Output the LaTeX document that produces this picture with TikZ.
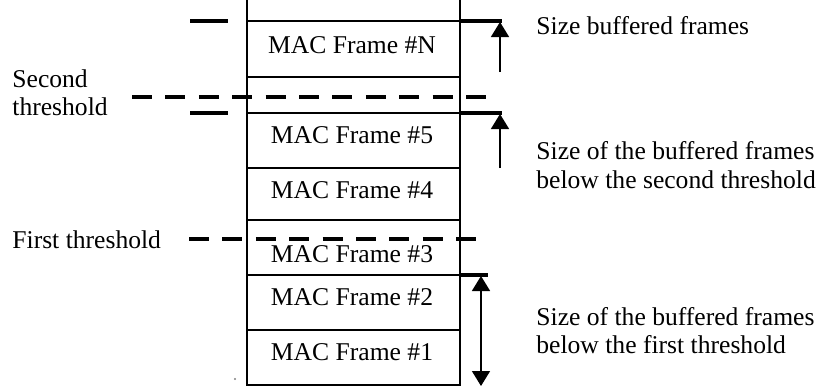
\documentclass[tikz,border=0pt]{standalone}
\usepackage{fontspec}
\setmainfont{Liberation Serif}
\usetikzlibrary{arrows.meta}
\begin{document}
\begin{tikzpicture}[x=0.5pt,y=-0.5pt,
  txt/.style={font=\fontsize{12.8}{15}\selectfont, inner sep=0pt, anchor=base},
  ltxt/.style={txt, anchor=base west},
  cellline/.style={line width=0.75pt},
  thickline/.style={line width=2pt},
  thr/.style={line width=2pt, dash pattern=on 10pt off 6.7pt},
  arr/.style={line width=0.75pt, -{Triangle[width=9pt,length=7.5pt]}},
  darr/.style={line width=0.75pt, {Triangle[width=9pt,length=7.5pt]}-{Triangle[width=9pt,length=7.5pt]}}]
\useasboundingbox (0,0) rectangle (820,388);
% buffer column
\coordinate (tl) at (247,0);
\coordinate (tr) at (460,0);
\coordinate (bl) at (247,385);
\coordinate (br) at (460,385);
\draw[cellline] (tl) -- (bl) -- (br) -- (tr);
\foreach \yy/\nm in {21/a,77/b,113/c,168/d,220/e,275/f,330/g}{
  \coordinate (l\nm) at (247,\yy);
  \coordinate (r\nm) at (460,\yy);
  \draw[cellline] (l\nm) -- (r\nm);
}
% frame labels
\node[txt] (fN) at (352,53) {MAC Frame \#N};
\node[txt] (f5) at (352,143) {MAC Frame \#5};
\node[txt] (f4) at (352,198) {MAC Frame \#4};
\node[txt] (f3) at (352,262) {MAC Frame \#3};
\node[txt] (f2) at (352,305) {MAC Frame \#2};
\node[txt] (f1) at (352,360) {MAC Frame \#1};
% thresholds
\coordinate (s1) at (132,97);
\coordinate (s2) at (497,97);
\draw[thr] (s1) -- (s2);
\coordinate (t1) at (189,239);
\coordinate (t2) at (481,239);
\draw[thr] (t1) -- (t2);
% left thick marks
\coordinate (m1a) at (190,21); \coordinate (m1b) at (228,21);
\coordinate (m2a) at (190,113); \coordinate (m2b) at (228,113);
\draw[thickline] (m1a) -- (m1b);
\draw[thickline] (m2a) -- (m2b);
% right thick marks and arrows
\coordinate (n1) at (502,21);
\coordinate (n2) at (502,113);
\coordinate (n3) at (488,275);
\draw[thickline] (ra) -- (n1);
\draw[thickline] (rc) -- (n2);
\draw[thickline] (rf) -- (n3);
\coordinate (a1s) at (500,72); \coordinate (a1e) at (500,22);
\coordinate (a2s) at (500,168); \coordinate (a2e) at (500,114);
\coordinate (a3s) at (481,276); \coordinate (a3e) at (481,386);
\draw[arr] (a1s) -- (a1e);
\draw[arr] (a2s) -- (a2e);
\draw[darr] (a3s) -- (a3e);
% left labels
\node[ltxt] (sec1) at (12,87) {Second};
\node[ltxt] (sec2) at (12,115) {threshold};
\node[ltxt] (fir) at (12,248) {First threshold};
% right labels
\node[ltxt] (r1) at (536,34) {Size buffered frames};
\node[ltxt] (r2a) at (536,159) {Size of the buffered frames};
\node[ltxt] (r2b) at (536,188) {below the second threshold};
\node[ltxt] (r3a) at (536,325) {Size of the buffered frames};
\node[ltxt] (r3b) at (536,353) {below the first threshold};
% stray dot
\fill[gray] (235,379) circle (0.6pt);
\end{tikzpicture}
\end{document}
